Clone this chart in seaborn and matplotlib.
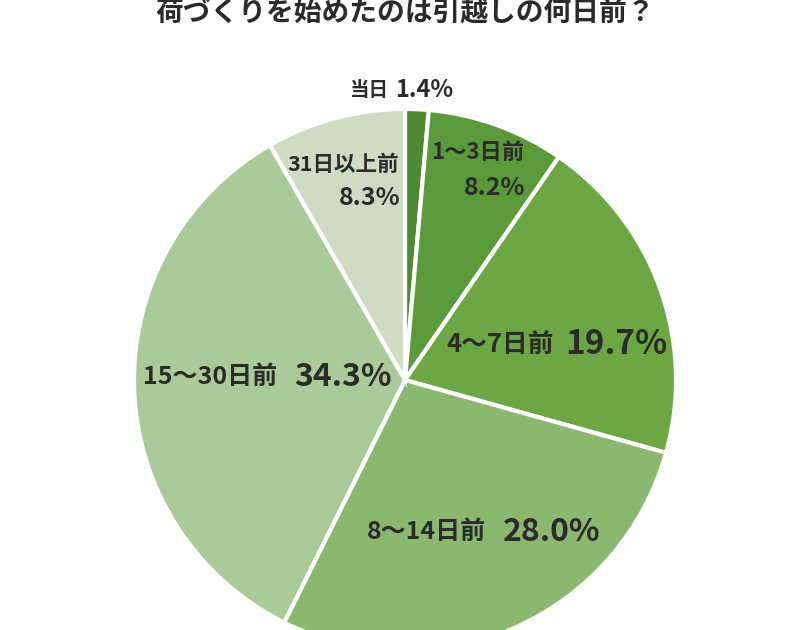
import matplotlib
matplotlib.use("Agg")
import matplotlib.pyplot as plt
import seaborn as sns

# data (clockwise from 12 o'clock)
categories = ["当日", "1〜3日前", "4〜7日前", "8〜14日前", "15〜30日前", "31日以上前"]
shares = [1.4, 8.2, 19.7, 28.0, 34.3, 8.3]
colors = ["#4f8a33", "#5b9a3b", "#6ba843", "#8ab86e", "#abca99", "#cddcc2"]

sns.set_theme(style="white")
plt.rcParams["font.family"] = ["Noto Sans CJK JP", "DejaVu Sans"]
plt.rcParams["font.weight"] = "bold"

fig = plt.figure(figsize=(8.1, 6.3), dpi=100)
# square axes holding the pie: centre (405, 380) px, radius 271 px
R = 271
ax = fig.add_axes([(405 - R) / 810, (630 - 380 - R) / 630, 2 * R / 810, 2 * R / 630])
ax.pie(shares, colors=colors, startangle=90, counterclock=False,
       wedgeprops=dict(edgecolor="white", linewidth=3))
ax.set_xlim(-1, 1)
ax.set_ylim(-1, 1)
ax.set_axis_off()

txt = "#2b2b2b"
pct = [f"{v:.1f}%" for v in shares]

# 当日
ax.text(-0.06, 1.07, categories[0], ha="right", va="center", fontsize=14, color=txt, fontweight="bold")
ax.text(-0.035, 1.07, pct[0], ha="left", va="center", fontsize=17, color=txt, fontweight="bold")
# 1〜3日前
ax.text(0.27, 0.84, categories[1], ha="center", va="center", fontsize=16, color=txt, fontweight="bold")
ax.text(0.33, 0.71, pct[1], ha="center", va="center", fontsize=18, color=txt, fontweight="bold")
# 31日以上前
ax.text(-0.23, 0.795, categories[5], ha="center", va="center", fontsize=15.5, color=txt, fontweight="bold")
ax.text(-0.13, 0.67, pct[5], ha="center", va="center", fontsize=18, color=txt, fontweight="bold")
# 4〜7日前
ax.text(0.35, 0.13, categories[2], ha="center", va="center", fontsize=18.5, color=txt, fontweight="bold")
ax.text(0.78, 0.13, pct[2], ha="center", va="center", fontsize=24, color=txt, fontweight="bold")
# 15〜30日前
ax.text(-0.72, 0.01, categories[4], ha="center", va="center", fontsize=18, color=txt, fontweight="bold")
ax.text(-0.23, 0.01, pct[4], ha="center", va="center", fontsize=23, color=txt, fontweight="bold")
# 8〜14日前
ax.text(0.08, -0.56, categories[3], ha="center", va="center", fontsize=18, color=txt, fontweight="bold")
ax.text(0.54, -0.56, pct[3], ha="center", va="center", fontsize=23, color=txt, fontweight="bold")

fig.text(0.5, 1 - 13 / 630, "荷づくりを始めたのは引越しの何日前？", ha="center", va="center",
         fontsize=20, color=txt, fontweight="bold")

fig.savefig("out.png", dpi=100)
